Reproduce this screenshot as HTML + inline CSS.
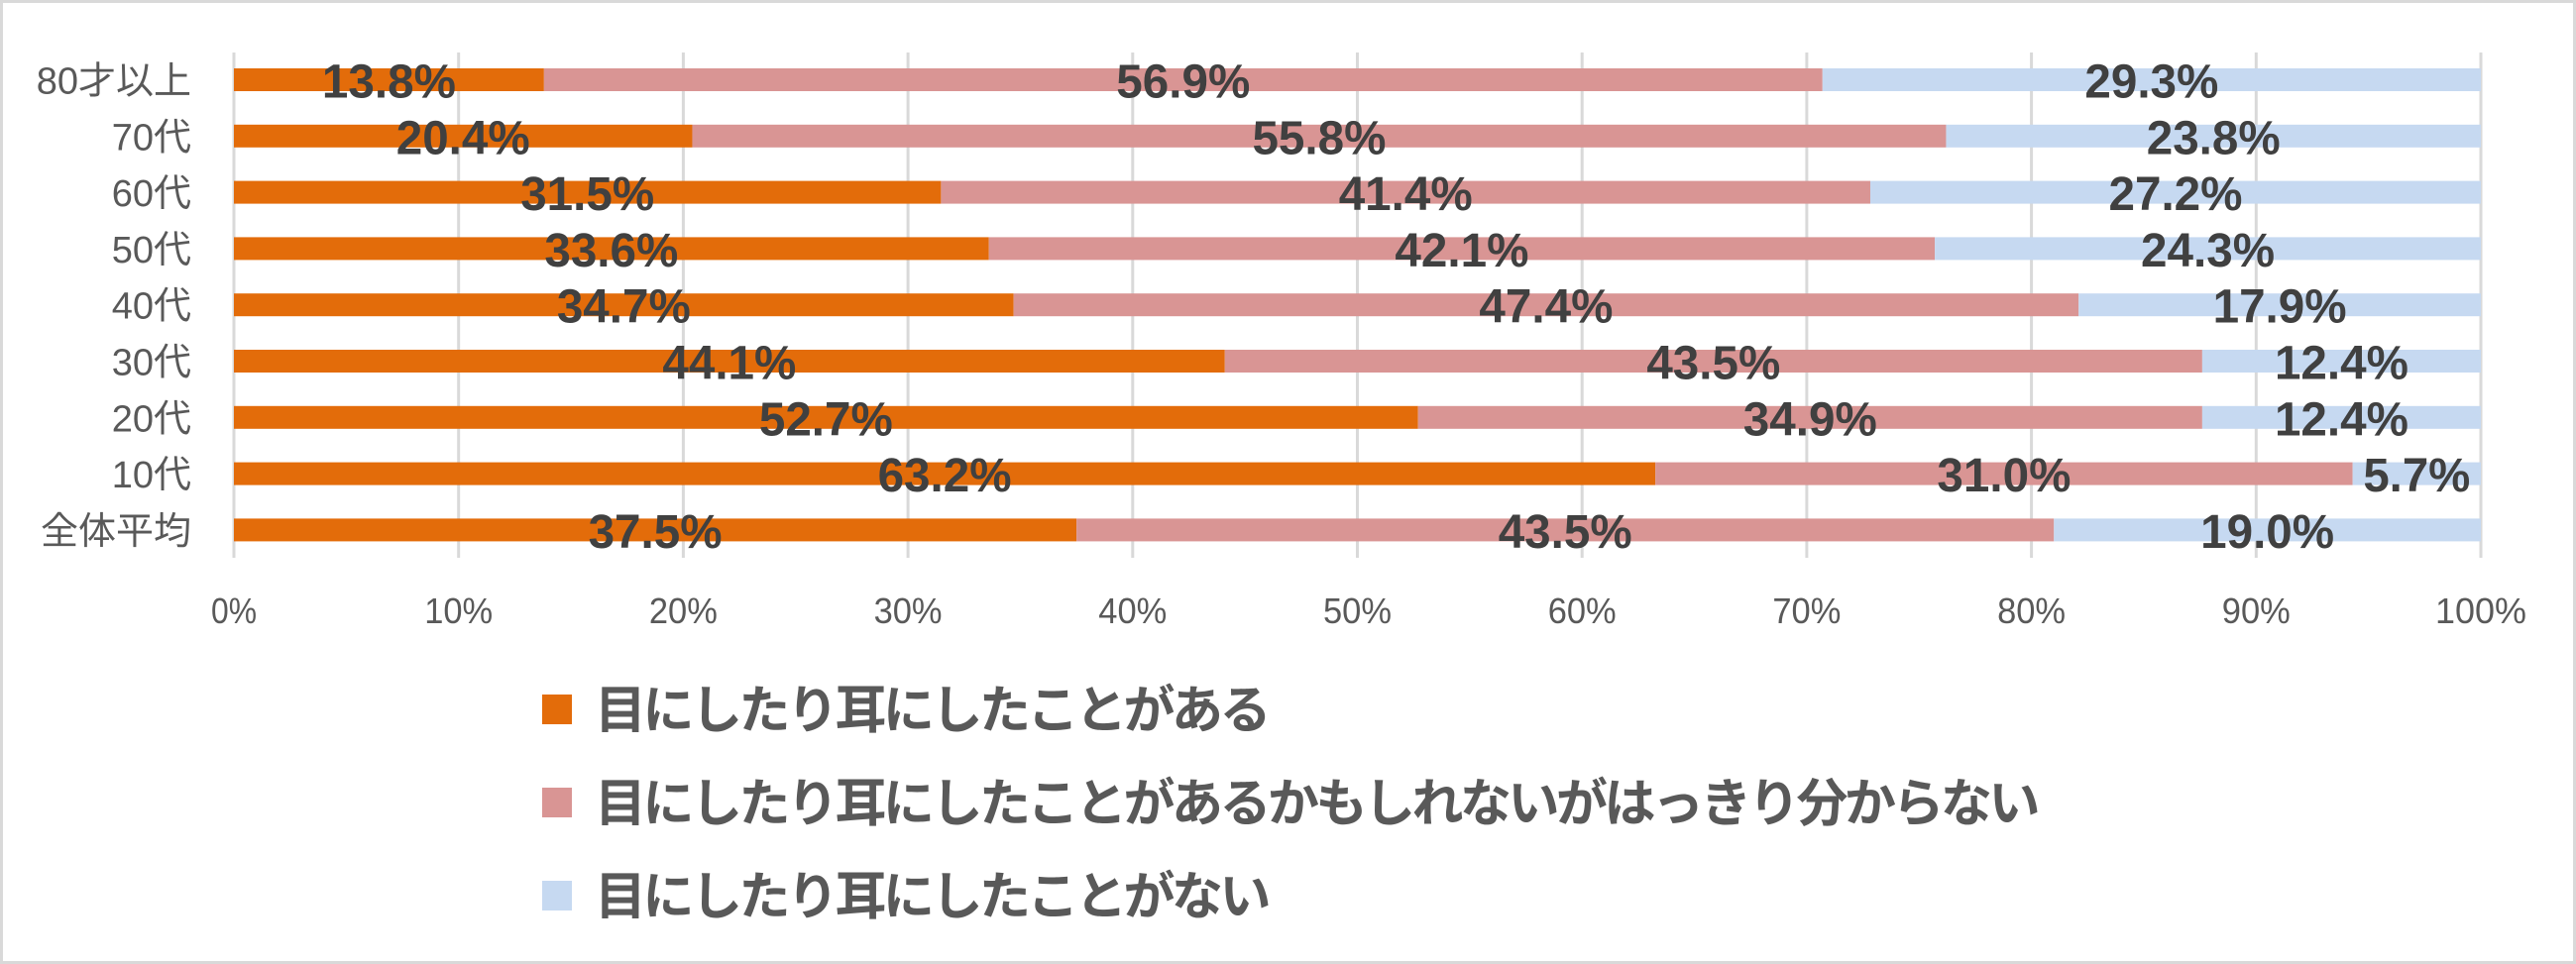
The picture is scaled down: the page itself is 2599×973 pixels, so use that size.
<!DOCTYPE html>
<html><head><meta charset="utf-8"><style>
html,body{margin:0;padding:0;background:#fff;}
svg{display:block;}
</style></head><body>
<svg id="c" width="2599" height="973" xmlns="http://www.w3.org/2000/svg" font-family="'Liberation Sans','Noto Sans CJK JP',sans-serif"></svg>
<script>
const s=document.getElementById('c');
let h='<rect x="1.5" y="1.5" width="2596" height="970" fill="#fff" stroke="#d9d9d9" stroke-width="3"/>';
const x0=236,W=2267;
for(let i=0;i<=10;i++){const x=x0+W*i/10;
h+=`<line x1="${x}" y1="53" x2="${x}" y2="563" stroke="#d9d9d9" stroke-width="3"/>`;
const t=i*10+'%';h+=`<text x="${x}" y="629" text-anchor="middle" font-size="36" fill="#595959" textLength="${t.length*23}" lengthAdjust="spacingAndGlyphs">${t}</text>`;}
const cats=['80才以上','70代','60代','50代','40代','30代','20代','10代','全体平均'];
const d=[[13.8,56.9,29.3],[20.4,55.8,23.8],[31.5,41.4,27.2],[33.6,42.1,24.3],[34.7,47.4,17.9],[44.1,43.5,12.4],[52.7,34.9,12.4],[63.2,31.0,5.7],[37.5,43.5,19.0]];
const col=['#E36C0A','#D99594','#C6D9F1'];
let labels='';
d.forEach((r,i)=>{const cy=80.5+i*56.8;let a=0;const sum=r[0]+r[1]+r[2];
h+=`<text x="193" y="${cy+14}" text-anchor="end" font-size="38" fill="#595959">${cats[i]}</text>`;
r.forEach((v,j)=>{const xa=x0+W*a/sum,xb=x0+W*(a+v)/sum;
h+=`<rect x="${xa}" y="${cy-11.5}" width="${xb-xa}" height="23" fill="${col[j]}"/>`;
const t=v.toFixed(1)+'%';
labels+=`<text x="${(xa+xb)/2}" y="${cy+18}" text-anchor="middle" font-size="48" font-weight="bold" fill="#404040" textLength="${t.length*27}" lengthAdjust="spacingAndGlyphs">${t}</text>`;
a+=v;});});
h+=labels;
const lg=['目にしたり耳にしたことがある','目にしたり耳にしたことがあるかもしれないがはっきり分からない','目にしたり耳にしたことがない'];
const ly=[716,810,904];
lg.forEach((t,i)=>{h+=`<rect x="547" y="${ly[i]-15}" width="30" height="30" fill="${col[i]}"/>`;
h+=`<text x="600" y="${ly[i]+19}" font-size="52" font-weight="bold" letter-spacing="-3.5" fill="#595959">${t}</text>`;});
s.innerHTML=h;
</script>
</body></html>
